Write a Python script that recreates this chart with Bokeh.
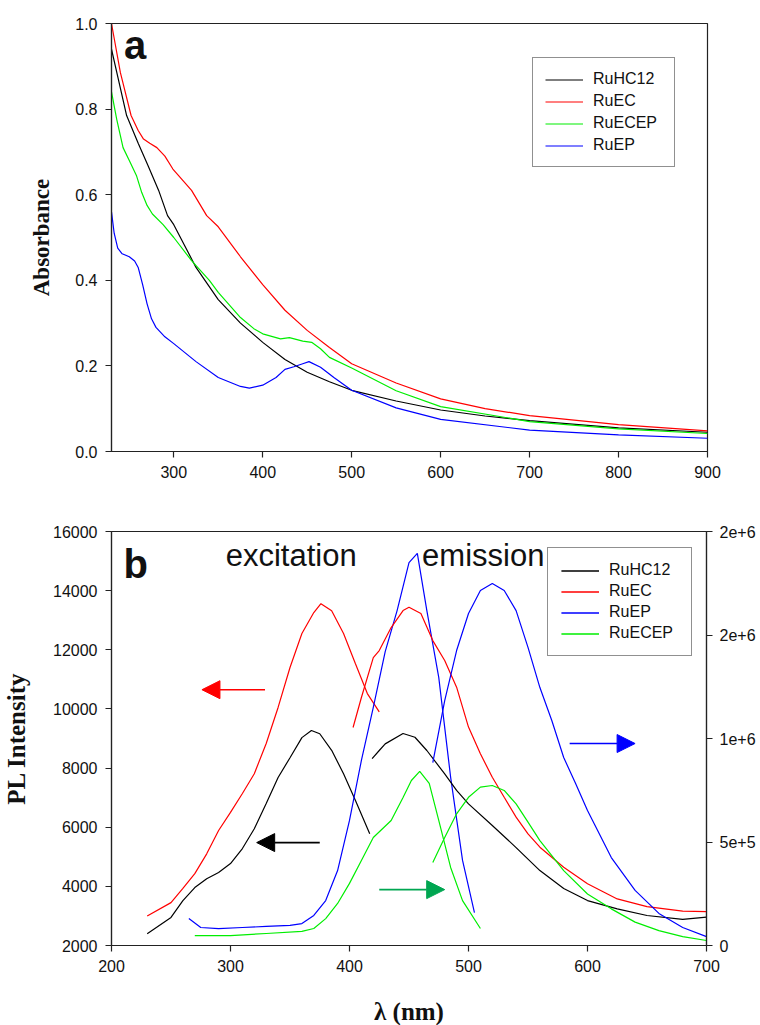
from bokeh.plotting import figure
from bokeh.models import (Range1d, LinearAxis, Legend, LegendItem, Arrow, NormalHead,
                          FixedTicker, Label)
from bokeh.layouts import column
from bokeh.embed import file_html
from bokeh.resources import INLINE

# ---------------- Panel a: absorbance ----------------
a_x_hc12 = [230, 247, 260, 271, 283, 293, 300, 325, 350, 375, 400, 425, 450, 475, 500, 550, 600, 650, 700, 800, 900]
a_y_hc12 = [0.94, 0.785, 0.72, 0.668, 0.61, 0.551, 0.53, 0.43, 0.355, 0.30, 0.255, 0.215, 0.185, 0.163, 0.143, 0.118, 0.097, 0.083, 0.072, 0.055, 0.045]

a_x_ec = [230, 240, 252, 260, 266, 273, 281, 290, 299, 320, 337, 350, 375, 400, 425, 450, 475, 500, 550, 600, 650, 700, 800, 900]
a_y_ec = [1.0, 0.885, 0.785, 0.75, 0.73, 0.72, 0.71, 0.69, 0.66, 0.61, 0.551, 0.525, 0.455, 0.39, 0.33, 0.283, 0.243, 0.205, 0.16, 0.123, 0.10, 0.084, 0.063, 0.048]

a_x_ecep = [230, 236, 243, 250, 258, 264, 270, 276, 288, 300, 320, 340, 350, 375, 390, 400, 420, 430, 445, 455, 465, 475, 500, 550, 600, 700, 800, 900]
a_y_ecep = [0.84, 0.775, 0.71, 0.68, 0.645, 0.605, 0.575, 0.555, 0.53, 0.50, 0.446, 0.40, 0.372, 0.313, 0.287, 0.275, 0.263, 0.266, 0.258, 0.255, 0.24, 0.22, 0.195, 0.142, 0.105, 0.07, 0.053, 0.042]

a_x_ep = [230, 233, 237, 242, 250, 256, 260, 265, 270, 275, 280, 290, 300, 325, 350, 375, 385, 400, 415, 425, 435, 445, 452, 465, 480, 500, 550, 600, 700, 800, 900]
a_y_ep = [0.56, 0.51, 0.475, 0.462, 0.455, 0.445, 0.43, 0.39, 0.345, 0.31, 0.29, 0.268, 0.252, 0.21, 0.173, 0.152, 0.148, 0.155, 0.173, 0.192, 0.198, 0.205, 0.21, 0.197, 0.173, 0.143, 0.102, 0.075, 0.05, 0.039, 0.031]

a_xticks = [300, 400, 500, 600, 700, 800, 900]
a_yticks = [0.0, 0.2, 0.4, 0.6, 0.8, 1.0]

# ---------------- Panel b: PL (excitation of RuHC12/RuEC on left axis, rest on right) ----------------
ex_x_hc12 = [230, 250, 260, 270, 280, 290, 300, 310, 320, 330, 340, 350, 360, 368, 375, 385, 395, 405, 417]
ex_y_hc12 = [2400, 2950, 3520, 3960, 4260, 4470, 4770, 5280, 5950, 6800, 7680, 8350, 9030, 9270, 9160, 8600, 7810, 6900, 5780]

ex_x_ec = [230, 250, 260, 270, 280, 290, 300, 310, 320, 330, 340, 350, 360, 370, 376, 385, 395, 405, 415, 425]
ex_y_ec = [3000, 3450, 3930, 4430, 5100, 5890, 6500, 7140, 7810, 8830, 10050, 11400, 12550, 13260, 13560, 13320, 12550, 11530, 10520, 9900]

ex_x_ep = [265, 275, 290, 310, 330, 350, 360, 370, 380, 390, 400, 410, 420, 430, 440, 450, 457, 465, 475, 485, 495, 505]
ex_y_ep = [130000, 87000, 82000, 87000, 92000, 97000, 106000, 145000, 217000, 362000, 604000, 894000, 1150000, 1420000, 1618000, 1850000, 1894000, 1618000, 1295000, 812000, 411000, 159000]

ex_x_ecep = [270, 300, 330, 360, 370, 380, 390, 400, 410, 420, 435, 445, 452, 459, 467, 475, 485, 495, 510]
ex_y_ecep = [48000, 48000, 58000, 68000, 82000, 130000, 203000, 300000, 411000, 522000, 604000, 715000, 797000, 841000, 783000, 604000, 377000, 217000, 82000]

em_x_hc12 = [419, 425, 430, 445, 455, 465, 480, 490, 500, 520, 540, 560, 580, 600, 625, 650, 680, 700]
em_y_hc12 = [903000, 942000, 974000, 1024000, 1006000, 942000, 829000, 749000, 684000, 580000, 473000, 362000, 275000, 217000, 177000, 145000, 126000, 137000]

em_x_ec = [403, 410, 420, 425, 435, 445, 450, 460, 470, 480, 490, 500, 510, 520, 530, 540, 550, 560, 580, 600, 625, 650, 680, 700]
em_y_ec = [1053000, 1198000, 1391000, 1425000, 1536000, 1618000, 1634000, 1604000, 1473000, 1377000, 1248000, 1055000, 926000, 813000, 716000, 620000, 539000, 475000, 378000, 298000, 225000, 188000, 166000, 164000]

em_x_ep = [470, 480, 490, 500, 510, 520, 530, 540, 550, 560, 570, 580, 590, 600, 620, 640, 660, 680, 700]
em_y_ep = [884000, 1183000, 1425000, 1604000, 1715000, 1749000, 1715000, 1618000, 1440000, 1246000, 1087000, 908000, 783000, 652000, 425000, 266000, 155000, 87000, 43000]

em_x_ecep = [470, 480, 490, 500, 510, 520, 530, 540, 550, 560, 580, 600, 620, 640, 660, 680, 700]
em_y_ecep = [401000, 522000, 636000, 716000, 765000, 773000, 749000, 684000, 596000, 507000, 362000, 249000, 177000, 113000, 72000, 43000, 24000]

b_xticks = [200, 300, 400, 500, 600, 700]
b_yticks = [2000, 4000, 6000, 8000, 10000, 12000, 14000, 16000]
b_rticks = [0, 500000, 1000000, 1500000, 2000000]
b_rlabels = ["0", "5e+5", "1e+6", "2e+6", "2e+6"]

# arrows: (tail x, tip x, y on left axis, colour)
arrow_tail = [329, 375, 585, 425]
arrow_tip = [276, 322, 640, 480]
arrow_y = [10650, 5480, 8830, 3890]
arrow_col = ["#ff0000", "#000000", "#0000ff", "#00a651"]

SANS = "Liberation Sans"
SERIF = "Liberation Serif"
LW = 1.2


def style_axis(ax):
    ax.major_tick_out = 6
    ax.major_tick_in = 0
    ax.minor_tick_out = 0
    ax.minor_tick_in = 0
    ax.axis_line_color = "#222222"
    ax.axis_line_width = 1.2
    ax.major_tick_line_color = "#222222"
    ax.major_tick_line_width = 1.2
    ax.major_label_text_font = SANS
    ax.major_label_text_font_size = "16px"
    ax.major_label_text_color = "#111111"
    ax.major_label_standoff = 8
    ax.axis_label_text_font = SERIF
    ax.axis_label_text_font_style = "bold"
    ax.axis_label_text_color = "#111111"


def style_legend(lg):
    lg.border_line_color = "#222222"
    lg.border_line_width = 1.2
    lg.background_fill_color = "white"
    lg.background_fill_alpha = 1.0
    lg.label_text_font = SANS
    lg.label_text_font_size = "16px"
    lg.label_text_color = "#111111"
    lg.glyph_width = 38
    lg.glyph_height = 17
    lg.label_height = 17
    lg.label_width = 69
    lg.spacing = 4
    lg.padding = 12
    lg.margin = 0
    lg.label_standoff = 10


# ---------- figure a ----------
pa = figure(frame_width=596, frame_height=428, output_backend="svg", toolbar_location=None,
            x_range=Range1d(230, 900), y_range=Range1d(0, 1.0),
            min_border_left=102, min_border_right=40, min_border_top=23, min_border_bottom=37)
pa.grid.visible = False
pa.outline_line_color = "#222222"
pa.outline_line_width = 1.2
pa.xaxis.ticker = FixedTicker(ticks=a_xticks)
pa.yaxis.ticker = FixedTicker(ticks=a_yticks)
pa.yaxis.major_label_overrides = {0: "0.0", 0.2: "0.2", 0.4: "0.4", 0.6: "0.6", 0.8: "0.8", 1: "1.0"}
for ax in pa.xaxis + pa.yaxis:
    style_axis(ax)
pa.yaxis.axis_label = "Absorbance"
pa.yaxis.axis_label_text_font_size = "23px"
pa.yaxis.axis_label_standoff = 18

ra1 = pa.line(a_x_hc12, a_y_hc12, line_color="#000000", line_width=LW)
ra2 = pa.line(a_x_ec, a_y_ec, line_color="#ff0000", line_width=LW)
ra3 = pa.line(a_x_ecep, a_y_ecep, line_color="#00ee00", line_width=LW)
ra4 = pa.line(a_x_ep, a_y_ep, line_color="#0000ff", line_width=LW)

leg_a = Legend(items=[LegendItem(label="RuHC12", renderers=[ra1]),
                      LegendItem(label="RuEC", renderers=[ra2]),
                      LegendItem(label="RuECEP", renderers=[ra3]),
                      LegendItem(label="RuEP", renderers=[ra4])],
               location=(421, 284))
style_legend(leg_a)
pa.add_layout(leg_a)

pa.add_layout(Label(x=244, y=0.95, text="a", text_font=SANS, text_font_style="bold",
                    text_font_size="40px", text_baseline="middle", text_color="#111111"))

# ---------- figure b ----------
pb = figure(frame_width=595, frame_height=414, output_backend="svg", toolbar_location=None,
            x_range=Range1d(200, 700), y_range=Range1d(2000, 16000),
            min_border_left=104, min_border_right=20, min_border_top=43, min_border_bottom=70)
pb.grid.visible = False
pb.outline_line_color = "#222222"
pb.outline_line_width = 1.2
pb.extra_y_ranges = {"right": Range1d(0, 2000000)}
pb.xaxis.ticker = FixedTicker(ticks=b_xticks)
pb.yaxis.ticker = FixedTicker(ticks=b_yticks)
raxis = LinearAxis(y_range_name="right", ticker=FixedTicker(ticks=b_rticks),
                   major_label_overrides={t: l for t, l in zip(b_rticks, b_rlabels)})
pb.add_layout(raxis, "right")
for ax in pb.xaxis + pb.yaxis:
    style_axis(ax)
raxis.major_label_standoff = 7
pb.yaxis[0].axis_label = "PL Intensity"
pb.yaxis[0].axis_label_text_font_size = "25px"
pb.yaxis[0].axis_label_standoff = 20
pb.xaxis.axis_label = "λ (nm)"
pb.xaxis.axis_label_text_font_size = "25px"
pb.xaxis.axis_label_standoff = 23

r1 = pb.line(ex_x_hc12, ex_y_hc12, line_color="#000000", line_width=LW)
r2 = pb.line(ex_x_ec, ex_y_ec, line_color="#ff0000", line_width=LW)
r3 = pb.line(ex_x_ep, ex_y_ep, line_color="#0000ff", line_width=LW, y_range_name="right")
r4 = pb.line(ex_x_ecep, ex_y_ecep, line_color="#00ee00", line_width=LW, y_range_name="right")
r5 = pb.line(em_x_hc12, em_y_hc12, line_color="#000000", line_width=LW, y_range_name="right")
r6 = pb.line(em_x_ec, em_y_ec, line_color="#ff0000", line_width=LW, y_range_name="right")
r7 = pb.line(em_x_ep, em_y_ep, line_color="#0000ff", line_width=LW, y_range_name="right")
r8 = pb.line(em_x_ecep, em_y_ecep, line_color="#00ee00", line_width=LW, y_range_name="right")

for xs, xe, yy, c in zip(arrow_tail, arrow_tip, arrow_y, arrow_col):
    pb.add_layout(Arrow(x_start=xs, y_start=yy, x_end=xe, y_end=yy, line_color=c, line_width=1.6,
                        end=NormalHead(size=18, fill_color=c, line_color=c, line_width=1)))

leg_b = Legend(items=[LegendItem(label="RuHC12", renderers=[r1, r5]),
                      LegendItem(label="RuEC", renderers=[r2, r6]),
                      LegendItem(label="RuEP", renderers=[r3, r7]),
                      LegendItem(label="RuECEP", renderers=[r4, r8])],
               location=(436, 289))
style_legend(leg_b)
leg_b.spacing = 3
leg_b.padding = 13
pb.add_layout(leg_b)

pb.add_layout(Label(x=210, y=14900, text="b", text_font=SANS, text_font_style="bold",
                    text_font_size="40px", text_baseline="middle", text_color="#111111"))
pb.add_layout(Label(x=296, y=15200, text="excitation", text_font=SANS,
                    text_font_size="31px", text_baseline="middle", text_color="#111111"))
pb.add_layout(Label(x=461, y=15200, text="emission", text_font=SANS,
                    text_font_size="31px", text_baseline="middle", text_color="#111111"))

layout = column(pa, pb, spacing=0)
open("out.html", "w").write(file_html(layout, INLINE))
